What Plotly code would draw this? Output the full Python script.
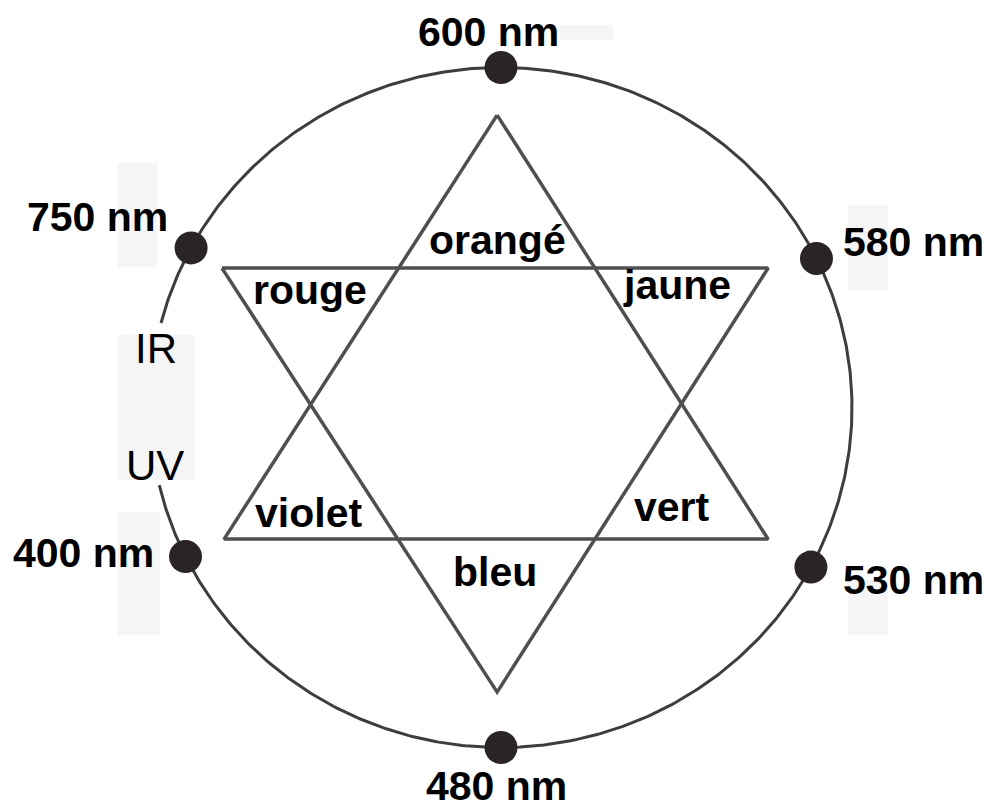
import numpy as np
import plotly.graph_objects as go

# ---------------- data ----------------
# wavelength markers on the colour wheel (angle in degrees, math convention)
wavelength_labels = ["600 nm", "580 nm", "530 nm", "480 nm", "400 nm", "750 nm"]
wavelength_angles = [90, 26, -28, -90, 206, 152]

# colour names inside the star
colour_names = ["orangé", "jaune", "vert", "bleu", "violet", "rouge"]

# invisible-range labels
range_labels = ["IR", "UV"]

# gap in the circle between IR and UV (degrees)
gap_start_deg = 165.6
gap_end_deg = 193.2

# star vertices (unit-circle coordinates)
up_triangle_x = [-0.011, -0.789, 0.761, -0.011]
up_triangle_y = [0.860, -0.387, -0.387, 0.860]
down_triangle_x = [-0.795, 0.761, -0.011, -0.795]
down_triangle_y = [0.410, 0.410, -0.837, 0.410]

# ---------------- layout helpers (pixel -> unit coords) ----------------
CX, CY, RX, RY = 501.0, 407.5, 351.0, 340.0
W, H = 992, 809
OFF = 8  # page body margin in the browser


def ux(px):
    return (px - CX) / RX


def uy(py):
    return (CY - py) / RY


LINE = "#4f4f4f"
DOT = "#2b2427"
FONT = "Liberation Sans, Arial, sans-serif"

fig = go.Figure()

# circle with a gap on the left side
th = np.radians(np.linspace(gap_end_deg - 360, gap_start_deg, 600))
fig.add_trace(go.Scatter(x=np.cos(th), y=np.sin(th), mode="lines",
                         line=dict(color="#3d3d3d", width=3),
                         hoverinfo="skip", showlegend=False))

# star
fig.add_trace(go.Scatter(x=up_triangle_x, y=up_triangle_y, mode="lines",
                         line=dict(color=LINE, width=3.5),
                         hoverinfo="skip", showlegend=False))
fig.add_trace(go.Scatter(x=down_triangle_x, y=down_triangle_y, mode="lines",
                         line=dict(color=LINE, width=3.5),
                         hoverinfo="skip", showlegend=False))

# dots
a = np.radians(wavelength_angles)
fig.add_trace(go.Scatter(x=np.cos(a), y=np.sin(a), mode="markers",
                         marker=dict(color=DOT, size=33),
                         hoverinfo="skip", showlegend=False))

# faint background patches (scan artefacts in the original)
patches = [(560, 25, 613, 40), (118, 163, 157, 267), (118, 335, 195, 480),
           (118, 512, 160, 635), (848, 205, 888, 290), (848, 580, 888, 635)]
shapes = []
for x0, y0, x1, y1 in patches:
    shapes.append(dict(type="rect", xref="x", yref="y", layer="below",
                       x0=ux(x0), x1=ux(x1), y0=uy(y0), y1=uy(y1),
                       fillcolor="#f5f5f5", line=dict(width=0)))

# label positions (pixels)
wl_pos = [(488, 32), (913, 242), (913, 580), (496, 786), (83, 553), (97, 217)]
cn_pos = [(497, 240), (677, 285), (672, 507), (495, 572), (308, 513), (310, 290)]
rg_pos = [(156, 348), (155, 465)]

annotations = []
for t, (px, py) in zip(wavelength_labels, wl_pos):
    annotations.append(dict(x=ux(px), y=uy(py), text=t, showarrow=False,
                            xanchor="center", yanchor="middle",
                            font=dict(family=FONT, size=41, color="black", weight="bold")))
for t, (px, py) in zip(colour_names, cn_pos):
    annotations.append(dict(x=ux(px), y=uy(py), text=t, showarrow=False,
                            xanchor="center", yanchor="middle",
                            font=dict(family=FONT, size=41, color="black", weight="bold")))
for t, (px, py) in zip(range_labels, rg_pos):
    annotations.append(dict(x=ux(px), y=uy(py), text=t, showarrow=False,
                            xanchor="center", yanchor="middle",
                            font=dict(family=FONT, size=42, color="black")))

fig.update_layout(
    width=W - OFF, height=H - OFF,
    margin=dict(l=0, r=0, t=0, b=0),
    paper_bgcolor="white", plot_bgcolor="white",
    xaxis=dict(range=[ux(OFF), ux(W)], visible=False, fixedrange=True),
    yaxis=dict(range=[uy(H), uy(OFF)], visible=False, fixedrange=True),
    shapes=shapes,
    annotations=annotations,
    showlegend=False,
)

fig.write_html("out.html")
